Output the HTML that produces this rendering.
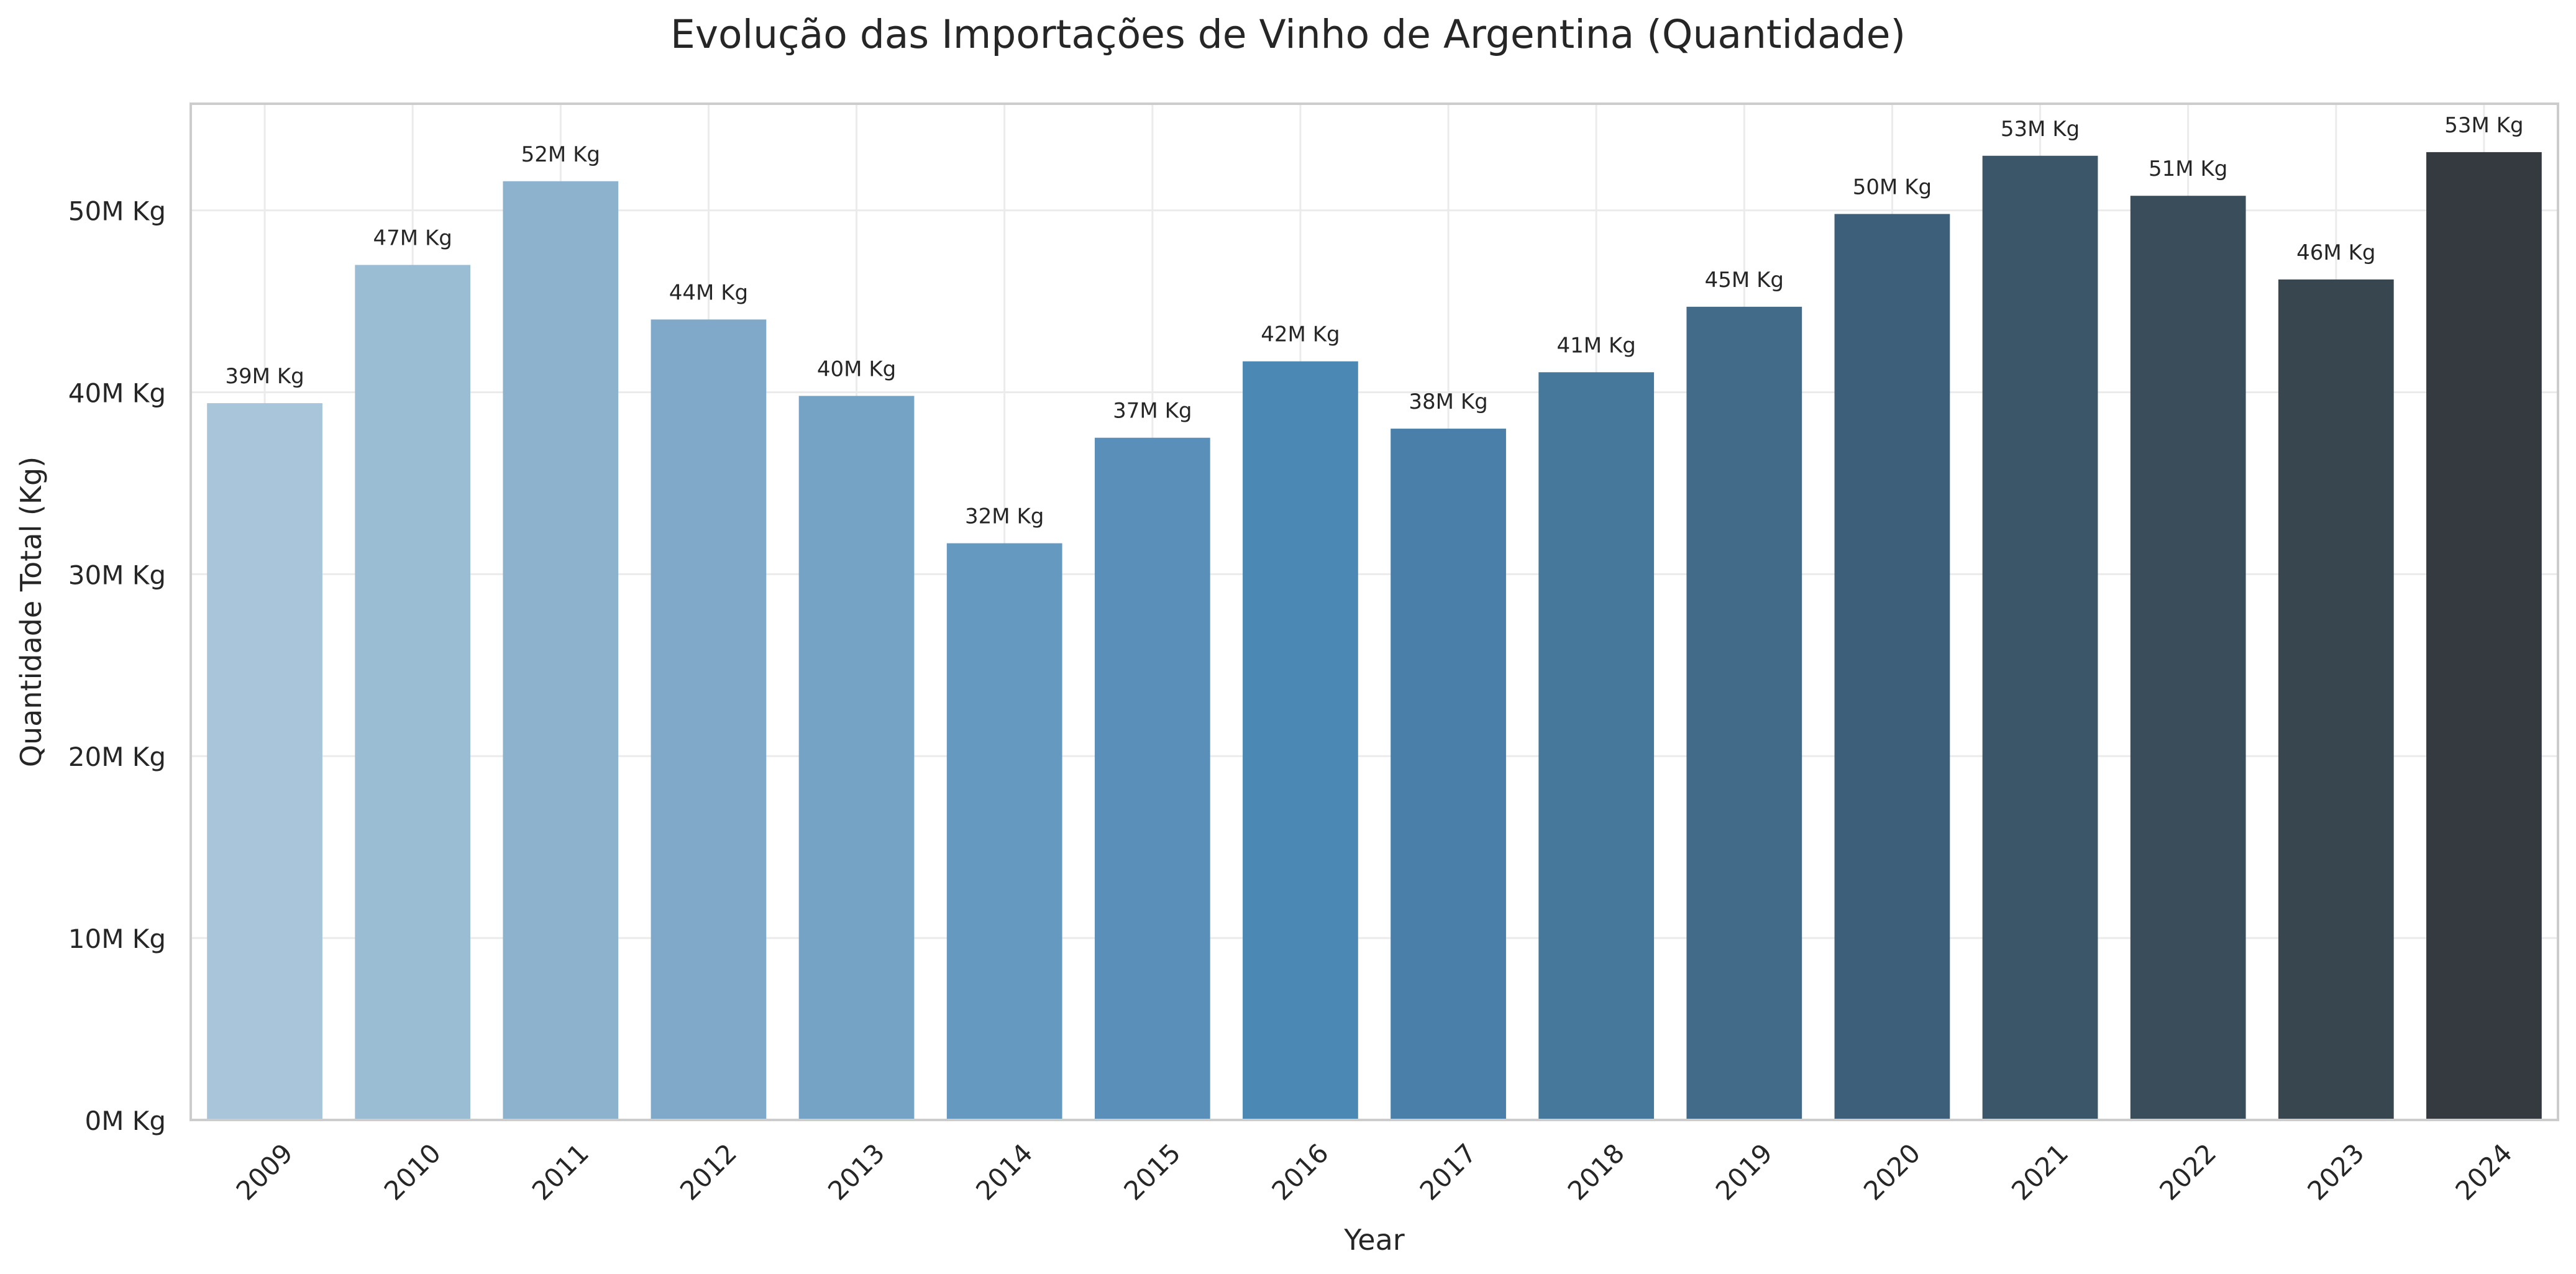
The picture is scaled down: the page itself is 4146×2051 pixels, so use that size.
<!DOCTYPE html>
<html><head><meta charset="utf-8"><style>html,body{margin:0;padding:0;background:#fff}svg{display:block}</style></head>
<body>
<svg id="chart" xmlns="http://www.w3.org/2000/svg" width="4146" height="2051" viewBox="0 0 4146 2051" font-family="'DejaVu Sans','Liberation Sans',sans-serif">
<rect width="4146" height="2051" fill="#fff"/>
<text x="2073" y="77" text-anchor="middle" font-size="63" fill="#262626">Evolução das Importações de Vinho de Argentina (Quantidade)</text>
<g id="grid"></g>
<g id="bars"></g>
<g id="labels"></g>
<rect x="307" y="167" width="3810" height="1636" fill="none" stroke="#cccccc" stroke-width="4"/>
<g id="yticks"></g>
<g id="xticks"></g>
<text x="2212" y="2012" text-anchor="middle" font-size="46" fill="#262626">Year</text>
<text transform="translate(66,985) rotate(-90)" text-anchor="middle" font-size="46" fill="#262626">Quantidade Total (Kg)</text>
</svg>
<script>
const categories = ["2009","2010","2011","2012","2013","2014","2015","2016","2017","2018","2019","2020","2021","2022","2023","2024"];
const values = [39.4,47.0,51.6,44.0,39.8,31.7,37.5,41.7,38.0,41.1,44.7,49.8,53.0,50.8,46.2,53.2];
const valueLabels = ["39M Kg","47M Kg","52M Kg","44M Kg","40M Kg","32M Kg","37M Kg","42M Kg","38M Kg","41M Kg","45M Kg","50M Kg","53M Kg","51M Kg","46M Kg","53M Kg"];
const yTicks = [0,10,20,30,40,50];
const yTickLabels = ["0M Kg","10M Kg","20M Kg","30M Kg","40M Kg","50M Kg"];
const palette = ["#a8c5da","#9bbdd3","#8cb2cd","#80a8c8","#74a3c5","#6699bf","#5a8fb9","#4b88b3","#4a7fa9","#45789a","#416b89","#3d5f79","#3c5669","#3a4d5b","#38464f","#353a41"];

const NS="http://www.w3.org/2000/svg";
const L=307,R=4117,T=167,B=1803,YMAX=55.86;
const slot=(R-L)/categories.length;
const xc=i=>L+slot*(i+0.5);
const y=v=>B-(v/YMAX)*(B-T);
function mk(tag,attrs,parent){const e=document.createElementNS(NS,tag);for(const k in attrs)e.setAttribute(k,attrs[k]);parent.appendChild(e);return e;}
const grid=document.getElementById('grid'),bars=document.getElementById('bars'),labels=document.getElementById('labels'),yt=document.getElementById('yticks'),xt=document.getElementById('xticks');
yTicks.forEach((v,i)=>{
  const g=mk('line',{x1:L,x2:R,y1:y(v),y2:y(v),stroke:'#ebebeb','stroke-width':3},grid);
  
  
  const t=mk('text',{x:267,y:y(v)+16,'text-anchor':'end','font-size':42,fill:'#262626'},yt);
  t.textContent=yTickLabels[i];
  
  
});
categories.forEach((c,i)=>{
  const g=mk('line',{x1:xc(i),x2:xc(i),y1:T,y2:B,stroke:'#ebebeb','stroke-width':3},grid);
  
  
  const bw=slot*0.78;
  const r=mk('rect',{x:xc(i)-bw/2,y:y(values[i]),width:bw,height:B-y(values[i]),fill:palette[i]},bars);
  
  
  const a=mk('text',{x:xc(i),y:y(values[i])-32,'text-anchor':'middle','font-size':34,fill:'#262626'},labels);
  a.textContent=valueLabels[i];
  
  
  const cx=xc(i),cy=1887;
  const t=mk('text',{x:cx,y:cy+14,'text-anchor':'middle','font-size':42,fill:'#262626',transform:`rotate(-45 ${cx} ${cy})`},xt);
  t.textContent=c;
  
  
});
</script>
</body></html>
